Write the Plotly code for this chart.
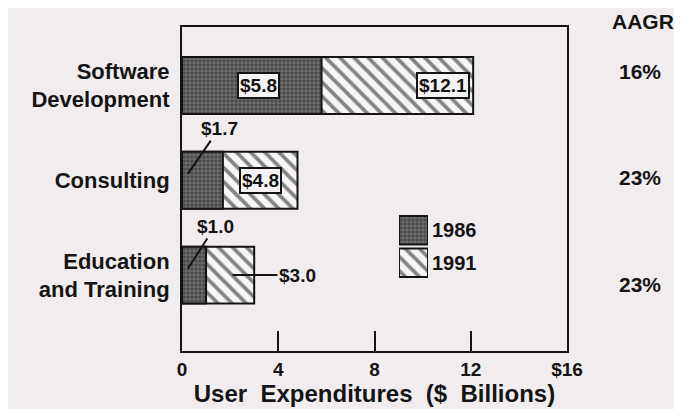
import plotly.graph_objects as go

# ---- data ----
categories = ["Software<br>Development", "Consulting", "Education<br>and Training"]
series = ["1986", "1991"]
values_1986 = [5.8, 1.7, 1.0]
values_1991 = [12.1, 4.8, 3.0]
aagr = ["16%", "23%", "23%"]
aagr_title = "AAGR"
x_tickvals = [0, 4, 8, 12, 16]
x_ticktext = ["0", "4", "8", "12", "$16"]
x_title = "User\u00a0 Expenditures\u00a0 ($\u00a0 Billions)"

# ---- style ----
BG = "#f1edef"
INK = "#141414"
FONT = "Liberation Sans, Arial, Helvetica, sans-serif"
DARK = "#6a6a6a"
pat86 = dict(shape=".", fgcolor="#262626", bgcolor=DARK, size=4, solidity=0.5)
pat91 = dict(shape="\\", fgcolor=INK, bgcolor="#f7f5f6", size=10, solidity=0.38)
line = dict(color=INK, width=2)

def money(v):
    return f"${v:.1f}"

fig = go.Figure()
fig.add_trace(go.Bar(y=categories, x=values_1991, orientation="h", name=series[1],
                     width=0.6, marker=dict(color="#f7f5f6", pattern=pat91, line=line),
                     showlegend=False))
fig.add_trace(go.Bar(y=categories, x=values_1986, orientation="h", name=series[0],
                     width=0.6, marker=dict(color=DARK, pattern=pat86, line=line),
                     showlegend=False))
# legend patches on a small auxiliary axis
fig.add_trace(go.Bar(y=[series[0]], x=[1], orientation="h", xaxis="x2", yaxis="y2",
                     width=0.88, marker=dict(color=DARK, pattern=pat86, line=line),
                     showlegend=False))
fig.add_trace(go.Bar(y=[series[1]], x=[1], orientation="h", xaxis="x2", yaxis="y2",
                     width=0.88, marker=dict(color="#f7f5f6", pattern=pat91, line=line),
                     showlegend=False))

bold = lambda s: dict(family=FONT, size=s, color=INK, weight="bold")

fig.update_layout(
    width=674, height=401,
    margin=dict(l=174, r=115, t=19, b=58),
    paper_bgcolor=BG, plot_bgcolor=BG,
    barmode="overlay",
    font=dict(family=FONT, color=INK),
    xaxis=dict(range=[0, 16], tickvals=x_tickvals, ticktext=x_ticktext,
               ticks="inside", ticklen=20, tickwidth=2, tickcolor=INK,
               showline=True, linewidth=2, linecolor=INK, mirror=True,
               showgrid=False, zeroline=False, tickfont=bold(19), automargin=False,
               title=dict(text=x_title, font=bold(24), standoff=4)),
    yaxis=dict(categoryorder="array", categoryarray=categories,
               range=[2.8, -0.616], showline=True, linewidth=2, linecolor=INK,
               mirror=True, ticks="", showgrid=False, zeroline=False, automargin=False,
               tickfont=bold(22), ticklabelstandoff=6),
    xaxis2=dict(domain=[0.5636, 0.639], anchor="y2", range=[0, 1], visible=False),
    yaxis2=dict(domain=[0.222, 0.423], anchor="x2", categoryorder="array",
                categoryarray=series, range=[1.5, -0.5], side="right",
                showline=False, ticks="", showgrid=False, zeroline=False, automargin=False,
                tickfont=bold(20), ticklabelstandoff=3),
)

ann = []
box = dict(bgcolor="#f4f2f3", bordercolor=INK, borderwidth=2, borderpad=1,
           showarrow=False, font=bold(19))
# Software Development: boxed labels
ann.append(dict(x=values_1986[0] * 0.55, y=0, xanchor="center",
                text=money(values_1986[0]), **box))
ann.append(dict(x=values_1991[0], y=0, xanchor="right", xshift=-3,
                text=money(values_1991[0]), **box))
# Consulting
ann.append(dict(x=(values_1986[1] + values_1991[1]) / 2, y=1, xanchor="center",
                text=money(values_1991[1]), **box))
arrow = dict(showarrow=True, arrowhead=0, arrowwidth=2, arrowcolor=INK, font=bold(19))
ann.append(dict(x=0.25, y=1 - 0.07, ax=31, ay=-45, text=money(values_1986[1]), **arrow))
# Education and Training
ann.append(dict(x=0.25, y=2 - 0.07, ax=27, ay=-42, text=money(values_1986[2]), **arrow))
ann.append(dict(x=values_1991[2] * 0.7, y=2, ax=65, ay=0, text=money(values_1991[2]), **arrow))
# AAGR column
ann.append(dict(xref="paper", yref="paper", x=1.197, y=1.0185, xanchor="center",
                yanchor="middle", text=aagr_title, showarrow=False, font=bold(21)))
yshifts = [14, 3, -9]
for i, t in enumerate(aagr):
    ann.append(dict(xref="paper", yref="y", x=1.19, y=i, yshift=yshifts[i],
                    xanchor="center", yanchor="middle", text=t,
                    showarrow=False, font=bold(21)))
fig.update_layout(annotations=ann)

fig.write_html("out.html")
